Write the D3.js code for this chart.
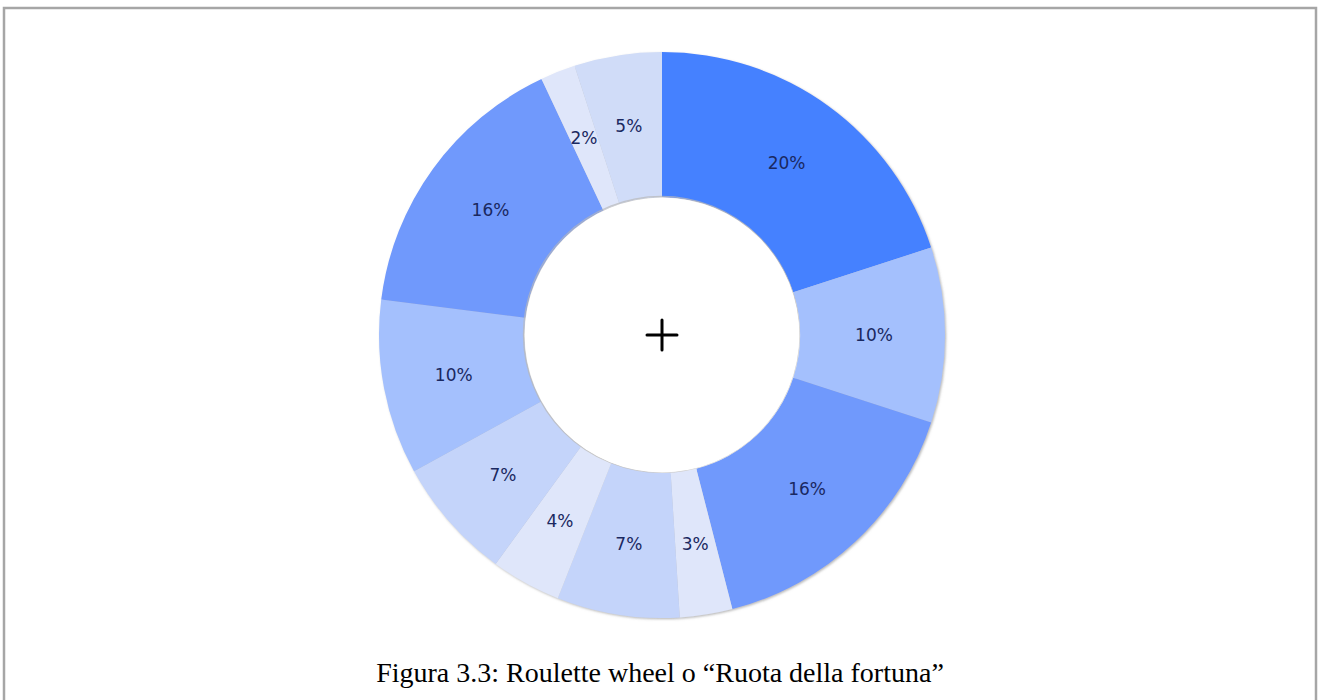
<!DOCTYPE html>
<html>
<head>
<meta charset="utf-8">
<script src="https://cdn.jsdelivr.net/npm/d3@7"></script>
<style>
  html, body { margin: 0; padding: 0; background: #fff; }
  svg { display: block; }
</style>
</head>
<body>
<svg id="chart" width="1319" height="700"></svg>
<script>
// Wheel sectors, clockwise from 12 o'clock
const sectors = ["s1", "s2", "s3", "s4", "s5", "s6", "s7", "s8", "s9", "s10", "s11"];
const shares = [20, 10, 16, 3, 7, 4, 7, 10, 16, 2, 5];
const fills = ["#4481ff", "#a4c0fd", "#7099fc", "#dfe6fa", "#c4d4fa", "#dfe6fa",
               "#c4d4fa", "#a4c0fd", "#7099fc", "#dfe6fa", "#d0dcf8"];
const caption = "Figura 3.3: Roulette wheel o \u201cRuota della fortuna\u201d";

const svg = d3.select("#chart");
const W = 1319, H = 700;
const cx = 662, cy = 335;
const outerR = 283, innerR = 138;

// frame
svg.append("rect")
  .attr("x", 4).attr("y", 8)
  .attr("width", W - 7).attr("height", H + 20)
  .attr("fill", "none").attr("stroke", "#a6a6a6").attr("stroke-width", 2.5);

// soft shadow under the ring
const defs = svg.append("defs");
const f = defs.append("filter").attr("id", "shade")
  .attr("x", "-10%").attr("y", "-10%").attr("width", "120%").attr("height", "120%");
f.append("feDropShadow").attr("dx", 1.2).attr("dy", 1.2)
  .attr("stdDeviation", 0.8).attr("flood-color", "#888").attr("flood-opacity", 0.6);

const pie = d3.pie().sort(null).value(d => d.v);
const arcs = pie(sectors.map((k, i) => ({ k, v: shares[i], c: fills[i] })));
const arc = d3.arc().innerRadius(innerR).outerRadius(outerR);
const labelArc = d3.arc().innerRadius(212).outerRadius(212);

const g = svg.append("g").attr("transform", `translate(${cx},${cy})`);

const ring = g.append("g").attr("filter", "url(#shade)");
ring.selectAll("path")
  .data(arcs)
  .join("path")
  .attr("d", arc)
  .attr("fill", d => d.data.c);

// inner rim shadow
g.append("circle")
  .attr("r", innerR)
  .attr("fill", "none")
  .attr("stroke", "#b8b8b8")
  .attr("stroke-width", 1.2)
  .attr("transform", "translate(-0.6,-0.6)")
  .attr("opacity", 0.7);
g.append("circle").attr("r", innerR - 0.6).attr("fill", "#fff");

g.selectAll("text.lbl")
  .data(arcs)
  .join("text")
  .attr("class", "lbl")
  .attr("transform", d => `translate(${labelArc.centroid(d)})`)
  .attr("text-anchor", "middle")
  .attr("dy", "0.35em")
  .attr("font-family", "DejaVu Sans, Verdana, sans-serif")
  .attr("font-size", 17)
  .attr("fill", "#1a2860")
  .text(d => d.data.v + "%");

// centre cross
g.append("line").attr("x1", -15).attr("x2", 15).attr("y1", 0).attr("y2", 0)
  .attr("stroke", "#000").attr("stroke-width", 3).attr("stroke-linecap", "round");
g.append("line").attr("x1", 0).attr("x2", 0).attr("y1", -15).attr("y2", 15)
  .attr("stroke", "#000").attr("stroke-width", 3).attr("stroke-linecap", "round");

// caption
svg.append("text")
  .attr("x", 660).attr("y", 682)
  .attr("text-anchor", "middle")
  .attr("font-family", "Liberation Serif, Times New Roman, serif")
  .attr("font-size", 28)
  .attr("fill", "#000")
  .text(caption);
</script>
</body>
</html>
